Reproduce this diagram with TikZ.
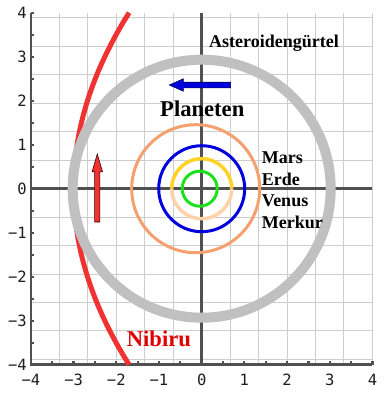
\documentclass[tikz,border=0pt]{standalone}
\usepackage{fontspec}
\setmainfont{Liberation Serif}
\newfontfamily\ticksfont{DejaVu Sans Mono}
\definecolor{gridgray}{RGB}{205,205,205}
\definecolor{axisgray}{RGB}{80,80,80}
\definecolor{ringgray}{RGB}{192,192,192}
\definecolor{marsorange}{RGB}{245,160,110}
\definecolor{earthblue}{RGB}{0,0,220}
\definecolor{venusyellow}{RGB}{255,210,40}
\definecolor{venuspeach}{RGB}{255,210,170}
\definecolor{merkurgreen}{RGB}{30,225,30}
\definecolor{nibirured}{RGB}{240,50,50}
\definecolor{labelred}{RGB}{225,0,0}
\definecolor{ticklabel}{RGB}{30,30,30}
\tikzset{
  gridline/.style={draw=gridgray, line width=1pt},
  axisline/.style={draw=axisgray, line width=3pt},
  frameaxis/.style={draw=axisgray, line width=2.6pt},
  tickmark/.style={draw=axisgray, line width=2.2pt},
  orbit/.style={line width=3pt},
  ticklab/.style={font=\ticksfont\fontsize{15.5}{16}\selectfont, text=ticklabel, inner sep=0pt},
  caption/.style={font=\bfseries\fontsize{18}{20}\selectfont, inner sep=0pt, anchor=base west},
  bigcaption/.style={font=\bfseries\fontsize{22.6}{24}\selectfont, inner sep=0pt, anchor=base west},
}
\begin{document}
\begin{tikzpicture}[x=42.7pt,y=44pt]
\useasboundingbox (-201.7pt,-213.3pt) rectangle (187.3pt,188.7pt);
\fill[white] (-201.7pt,-213.3pt) rectangle (187.3pt,188.7pt);
% grid
\draw[gridline] (-4,-4) grid (4,4);
% main axes through origin
\draw[axisline] (-4,0) -- (4,0);
\draw[axisline] (0,-4) -- (0,4);
% frame axes (left and bottom)
\draw[frameaxis] (-4,4) -- (-4,-4) -- (4,-4);
\foreach \t in {-3.5,-3,...,4.01} {
  \draw[tickmark] (\t,-4) -- ++(0,3.5pt);
}
\foreach \t in {-3.5,-3,...,4.01} {
  \draw[tickmark] (-4,\t) -- ++(3.5pt,0);
}
% tick labels
\foreach \v/\s in {-4/−4,-3/−3,-2/−2,-1/−1,0/0,1/1,2/2,3/3,4/4} {
  \node[ticklab, anchor=center] (xl\v) at (\v,-191.3pt) {\s};
  \node[ticklab, anchor=east] (yl\v) at (-174.7pt,\v) {\s};
}
% Nibiru orbit (drawn below the belt)
\draw[nibirured, line width=5pt] (-1.7,-4) .. controls (-3.433,-1.333) and (-3.433,1.333) .. (-1.7,4);
% asteroid belt
\draw[ringgray, line width=10pt] (0,0) circle[radius=129pt];
% planet orbits
\draw[marsorange, orbit] (-6pt,0) circle[radius=64pt];
\draw[earthblue, orbit] (0,0) circle[radius=43pt];
\draw[venusyellow, line width=3.5pt] (30pt,0) arc[start angle=0, end angle=180, radius=30pt];
\draw[venuspeach, line width=3.5pt] (-30pt,0) arc[start angle=180, end angle=360, radius=30pt];
\draw[merkurgreen, orbit] (-2pt,0) circle[radius=17.5pt];
% red arrow (Nibiru direction)
\draw[draw=black!75!red, fill=nibirured, line width=0.6pt]
  (-104.4pt,34.7pt) -- (-99.2pt,17pt) -- (-101.75pt,17pt) -- (-101.75pt,-33.3pt)
  -- (-107.05pt,-33.3pt) -- (-107.05pt,17pt) -- (-109.6pt,17pt) -- cycle;
% blue arrow (planets direction)
\draw[draw=black!60!blue, fill=earthblue, line width=0.6pt]
  (-32.4pt,103.7pt) -- (-18.4pt,109.9pt) -- (-18.4pt,106.5pt) -- (29pt,106.5pt)
  -- (29pt,100.9pt) -- (-18.4pt,100.9pt) -- (-18.4pt,97.5pt) -- cycle;
% labels
\node[caption] (asteroid) at (7.3pt,141pt) {Asteroidengürtel};
\node[bigcaption] (planeten) at (-41.7pt,72.7pt) {Planeten};
\node[caption] (mars) at (60pt,25.7pt) {Mars};
\node[caption] (erde) at (60pt,3.7pt) {Erde};
\node[caption] (venus) at (60pt,-17.8pt) {Venus};
\node[caption] (merkur) at (60pt,-39.3pt) {Merkur};
\node[bigcaption, text=labelred] (nibiru) at (-75pt,-158pt) {Nibiru};
\end{tikzpicture}
\end{document}
